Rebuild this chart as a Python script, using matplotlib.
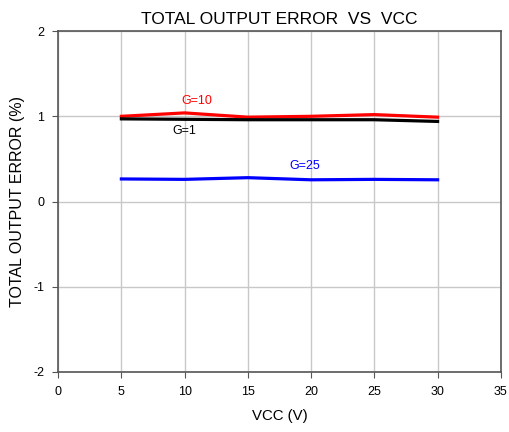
import matplotlib
matplotlib.use("Agg")
import matplotlib.pyplot as plt

plt.rcParams['font.family'] = ['Liberation Sans', 'DejaVu Sans']
plt.rcParams['axes.unicode_minus'] = False

# supply voltage points
vcc = [5, 10, 15, 20, 25, 30]

# total output error (%) per gain
err_g1 = [0.97, 0.965, 0.96, 0.96, 0.96, 0.94]
err_g10 = [1.0, 1.04, 0.99, 1.0, 1.02, 0.99]
err_g25 = [0.265, 0.26, 0.28, 0.255, 0.26, 0.255]

fig = plt.figure(figsize=(5.1, 4.32), dpi=100)
ax = fig.add_axes([0.114, 0.139, 0.868, 0.789])

ax.plot(vcc, err_g10, color="#ff0000", linewidth=2.3)
ax.plot(vcc, err_g1, color="#000000", linewidth=2.3)
ax.plot(vcc, err_g25, color="#0000ff", linewidth=2.3)

ax.text(11.0, 1.18, "G=10", color="#ff0000", fontsize=9, ha="center", va="center")
ax.text(10.0, 0.83, "G=1", color="#000000", fontsize=9, ha="center", va="center")
ax.text(19.5, 0.42, "G=25", color="#0000ff", fontsize=9, ha="center", va="center")

ax.set_xlim(0, 35)
ax.set_ylim(-2, 2)
ax.set_xticks(range(0, 36, 5))
ax.set_yticks([-2, -1, 0, 1, 2])
ax.grid(True, color="#c8c8c8", linewidth=1)
ax.set_axisbelow(True)
for s in ax.spines.values():
    s.set_color("#555555")
    s.set_linewidth(1.2)
ax.tick_params(direction="out", length=4, color="#555555", labelsize=9, pad=6)

ax.set_title("TOTAL OUTPUT ERROR  VS  VCC", fontsize=12.5, pad=5)
ax.set_xlabel("VCC (V)", fontsize=10.8, labelpad=8)
ax.set_ylabel("TOTAL OUTPUT ERROR (%)", fontsize=11.5, labelpad=6)

fig.savefig("out.png", dpi=100)
